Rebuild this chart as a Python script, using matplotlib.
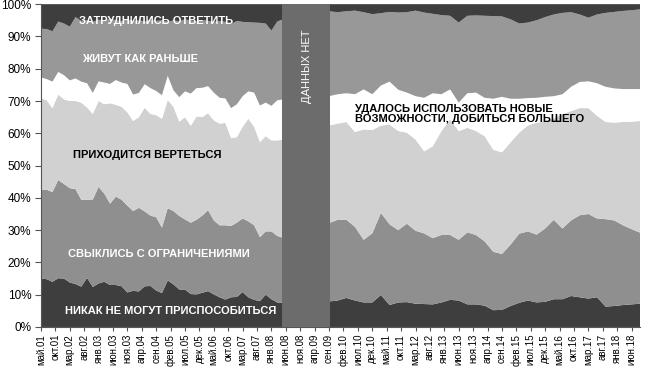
import numpy as np
import matplotlib
matplotlib.use("Agg")
import matplotlib.pyplot as plt

plt.rcParams['font.family'] = ['Liberation Sans', 'DejaVu Sans']

# month offsets from May 2001
months_a = list(range(0, 83, 2)) + [84]
months_b = list(range(100, 209, 3))

# cumulative upper boundaries (percent)
# segment A (2001-2008)
top_nikak_a = [15.1,14.8,14.0,15.1,15.0,13.8,13.3,12.5,15.2,12.4,13.5,14.0,13.0,13.0,12.6,10.7,11.2,11.0,12.6,12.7,11.3,10.5,14.4,13.2,11.6,11.6,10.2,10.1,10.6,11.1,10.1,9.2,8.5,9.2,9.3,10.8,9.2,8.4,8.0,10.0,8.6,7.6,7.4]
top_svyklis_a = [42.5,42.5,41.8,45.5,44.3,43.0,42.7,39.4,39.4,39.5,43.4,41.3,38.2,40.4,39.4,37.6,35.9,36.9,35.8,34.5,34.0,30.8,36.8,35.9,34.4,33.3,32.3,33.2,34.5,36.2,33.0,31.5,31.5,31.3,32.3,33.6,32.7,31.5,27.8,29.6,29.6,28.2,27.6]
top_vertetsya_a = [70.9,70.2,67.8,72.0,70.5,70.0,70.0,69.5,68.0,66.0,70.0,69.0,69.3,68.8,68.2,66.5,63.8,65.0,67.9,66.0,65.6,64.5,70.3,68.2,63.6,65.0,62.3,65.2,65.0,66.2,64.0,63.0,63.2,58.5,58.8,62.0,64.5,62.0,57.3,59.1,57.8,57.8,58.0]
top_udalos_a = [77.3,76.8,76.0,79.0,78.0,76.4,77.0,76.0,75.5,72.5,76.1,75.7,75.3,76.5,75.7,75.3,72.0,72.5,75.2,74.0,73.1,71.8,77.8,73.3,71.2,73.0,72.3,74.0,74.1,74.6,72.6,71.0,70.8,67.8,69.0,71.5,73.0,72.6,68.6,69.5,68.5,70.2,70.5]
top_zhivut_a = [92.4,92.3,91.6,94.6,94.0,93.0,96.0,94.8,95.0,94.5,95.2,94.8,95.5,95.0,94.7,95.3,94.8,95.0,94.6,95.2,94.8,95.0,94.5,95.0,94.7,95.3,94.9,94.6,95.0,94.8,94.5,94.8,94.5,93.8,94.8,94.5,94.4,94.3,94.2,94.0,91.8,94.6,95.3]

# segment B (2009-2018)
top_nikak_b = [7.9,8.2,9.0,8.2,7.6,7.6,9.9,6.8,7.6,7.7,7.2,7.1,7.0,7.6,8.4,8.2,7.0,7.0,6.6,5.2,5.3,6.5,7.5,8.2,7.6,7.8,8.6,8.6,9.6,9.2,8.8,9.2,6.3,6.5,6.8,7.0,7.2]
top_svyklis_b = [32.2,33.2,33.2,31.0,27.0,29.0,35.3,31.8,30.0,32.0,29.8,29.0,27.5,28.5,28.5,27.0,29.3,28.5,26.5,23.3,22.6,25.5,28.9,29.6,28.6,30.5,33.2,30.5,33.0,34.6,35.0,33.6,33.4,33.0,31.5,30.3,29.2]
top_vertetsya_b = [62.4,63.0,63.5,60.4,61.2,61.0,62.4,62.7,60.7,60.2,58.1,54.4,56.0,60.7,64.3,60.7,61.7,60.7,59.1,54.9,54.1,57.2,60.2,62.4,63.3,63.6,64.6,65.9,66.9,67.8,67.8,65.4,63.5,63.3,63.5,63.6,63.8]
top_udalos_b = [71.5,72.1,72.4,72.1,73.6,72.1,74.8,76.0,73.5,72.6,71.5,71.0,72.4,72.1,73.6,69.5,72.4,72.6,71.0,70.7,71.3,70.7,70.7,70.9,71.0,71.3,71.5,72.1,74.4,75.9,76.1,75.5,74.4,73.9,73.7,73.7,73.7]
top_zhivut_b = [97.8,97.5,97.8,98.0,97.5,96.9,97.2,97.6,97.4,97.5,98.0,97.4,97.0,96.6,96.4,94.3,96.4,96.5,96.4,96.3,96.2,95.3,94.0,94.3,95.0,96.0,96.8,97.3,97.5,96.8,95.8,96.8,97.3,97.6,97.9,98.1,98.4]

tick_months = list(range(0, 206, 5))
tick_labels = ['май.01','окт.01','мар.02','авг.02','янв.03','июн.03','ноя.03','апр.04','сен.04','фев.05',
               'июл.05','дек.05','май.06','окт.06','мар.07','авг.07','янв.08','июн.08','ноя.08','апр.09',
               'сен.09','фев.10','июл.10','дек.10','май.11','окт.11','мар.12','авг.12','янв.13','июн.13',
               'ноя.13','апр.14','сен.14','фев.15','июл.15','дек.15','май.16','окт.16','мар.17','авг.17',
               'янв.18','июн.18']

colors = ['#3e3e3e', '#8f8f8f', '#d1d1d1', '#ffffff', '#989898', '#3e3e3e']

fig = plt.figure(figsize=(6.5, 3.78), dpi=100)
ax = fig.add_axes([0.063, 0.135, 0.922, 0.854])

for months, tops in [(months_a, [top_nikak_a, top_svyklis_a, top_vertetsya_a, top_udalos_a, top_zhivut_a]),
                     (months_b, [top_nikak_b, top_svyklis_b, top_vertetsya_b, top_udalos_b, top_zhivut_b])]:
    bounds = np.vstack([np.zeros(len(months))] + [np.array(t) for t in tops] + [np.full(len(months), 100.0)])
    shares = np.diff(bounds, axis=0)
    ax.stackplot(months, shares, colors=colors, linewidth=0, zorder=2)

ax.axvspan(83.6, 100.3, color='#6c6c6c', zorder=3, linewidth=0)
ax.text(92.2, 80.7, 'ДАННЫХ НЕТ', rotation=90, color='white', fontsize=8,
        ha='center', va='center', zorder=4)

lab = dict(fontsize=8, fontweight='bold', ha='center', va='center', zorder=4)
ax.text(40, 94.8, 'ЗАТРУДНИЛИСЬ ОТВЕТИТЬ', color='white', **lab)
ax.text(34.4, 82.9, 'ЖИВУТ КАК РАНЬШЕ', color='white', **lab)
ax.text(36.8, 53.4, 'ПРИХОДИТСЯ ВЕРТЕТЬСЯ', color='black', **lab)
ax.text(40.8, 22.6, 'СВЫКЛИСЬ С ОГРАНИЧЕНИЯМИ', color='white', **lab)
ax.text(45, 4.8, 'НИКАК НЕ МОГУТ ПРИСПОСОБИТЬСЯ', color='white', **lab)
ax.text(109, 66.0, 'УДАЛОСЬ ИСПОЛЬЗОВАТЬ НОВЫЕ\nВОЗМОЖНОСТИ, ДОБИТЬСЯ БОЛЬШЕГО',
        color='black', fontsize=8, fontweight='bold', ha='left', va='center',
        linespacing=1.05, zorder=4)

ax.set_xlim(0, 208)
ax.set_ylim(0, 100)
ax.set_yticks(range(0, 101, 10))
ax.set_yticklabels([f'{v}%' for v in range(0, 101, 10)], fontsize=8.5)
ax.set_xticks(tick_months)
ax.set_xticklabels(tick_labels, rotation=90, fontsize=7)
ax.tick_params(axis='y', length=4, width=0.8, color='#555555', pad=3)
ax.tick_params(axis='x', length=3, width=0.8, color='#555555', pad=2)
for s in ['top', 'right']:
    ax.spines[s].set_visible(False)
for s in ['left', 'bottom']:
    ax.spines[s].set_color('#555555')
    ax.spines[s].set_linewidth(0.8)

fig.savefig('out.png', dpi=100)
